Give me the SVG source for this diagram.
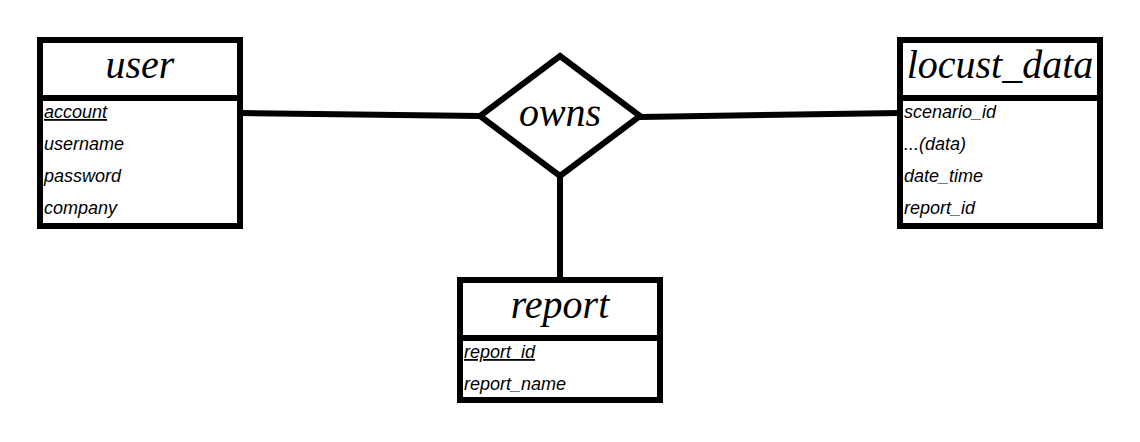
<svg xmlns="http://www.w3.org/2000/svg" width="1140" height="442" viewBox="0 0 1140 442">
<style>
.box{fill:#fff;stroke:#000;stroke-width:6}
.div{stroke:#000;stroke-width:6}
.title{font-family:"Liberation Serif",serif;font-style:italic;font-size:40px;text-anchor:middle;fill:#000}
.attr{font-family:"Liberation Sans",sans-serif;font-style:italic;font-size:18px;fill:#000}
.conn{stroke:#000;stroke-width:6;fill:none}
</style>
<rect width="1140" height="442" fill="#fff"/>
<g id="connectors">
<line class="conn" x1="242" y1="113" x2="480" y2="116"/>
<line class="conn" x1="640" y1="117" x2="900" y2="113"/>
<line class="conn" x1="560" y1="176" x2="560" y2="280"/>
</g>
<g id="user">
<rect class="box" x="40" y="40" width="200" height="186"/>
<line class="div" x1="40" y1="98" x2="240" y2="98"/>
<text class="title" x="140" y="78">user</text>
<text class="attr" x="44" y="118" text-decoration="underline">account</text>
<text class="attr" x="44" y="150">username</text>
<text class="attr" x="44" y="182">password</text>
<text class="attr" x="44" y="214">company</text>
</g>
<g id="locust_data">
<rect class="box" x="900" y="40" width="200" height="186"/>
<line class="div" x1="900" y1="98" x2="1100" y2="98"/>
<text class="title" x="1000" y="78">locust_data</text>
<text class="attr" x="904" y="118">scenario_id</text>
<text class="attr" x="904" y="150">...(data)</text>
<text class="attr" x="904" y="182">date_time</text>
<text class="attr" x="904" y="214">report_id</text>
</g>
<g id="report">
<rect class="box" x="460" y="280" width="200" height="120"/>
<line class="div" x1="460" y1="338" x2="660" y2="338"/>
<text class="title" x="560" y="318">report</text>
<text class="attr" x="464" y="358" text-decoration="underline">report_id</text>
<text class="attr" x="464" y="390">report_name</text>
</g>
<g id="owns">
<polygon class="box" points="560,56 640,116 560,176 480,116"/>
<text class="title" x="560" y="126">owns</text>
</g>
</svg>
